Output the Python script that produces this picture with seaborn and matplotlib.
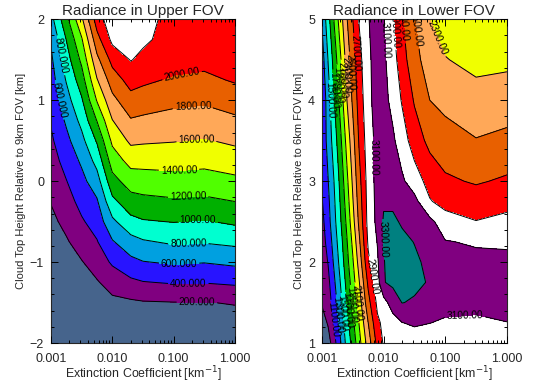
import numpy as np
import matplotlib
matplotlib.use("Agg")
import matplotlib.pyplot as plt
import seaborn as sns

# %%
# upper FOV grid: extinction (km^-1) x cloud top height (km)
ext_upper = [0.001, 0.00178, 0.00316, 0.00562, 0.01, 0.02, 0.0316, 0.1, 0.316, 1.0]
hgt_upper = [-2.0, -1.75, -1.5, -1.25, -1.0, -0.75, -0.5, -0.25, 0.0,
             0.25, 0.5, 0.75, 1.0, 1.25, 1.5, 1.75, 2.0]
rad_upper = [
    [10, 25, 45, 70, 90, 90, 95, 100, 100, 100],
    [15, 40, 70, 100, 120, 120, 125, 130, 130, 140],
    [25, 60, 100, 140, 160, 170, 185, 195, 195, 209],
    [40, 90, 140, 185, 271, 358, 391, 417, 408, 433],
    [60, 130, 190, 283, 430, 548, 592, 625, 608, 642],
    [102, 180, 283, 388, 582, 724, 778, 829, 814, 846],
    [155, 251, 377, 483, 757, 940, 983, 1007, 986, 1033],
    [209, 323, 461, 577, 952, 1123, 1148, 1173, 1159, 1201],
    [262, 394, 542, 715, 1131, 1290, 1306, 1327, 1315, 1356],
    [315, 471, 631, 867, 1291, 1467, 1467, 1472, 1456, 1500],
    [368, 548, 742, 1022, 1442, 1640, 1627, 1610, 1585, 1636],
    [419, 630, 857, 1208, 1594, 1783, 1762, 1729, 1707, 1764],
    [467, 722, 976, 1414, 1745, 1933, 1906, 1850, 1830, 1892],
    [514, 815, 1108, 1586, 1897, 2076, 2039, 1975, 1955, 2020],
    [562, 909, 1243, 1748, 2062, 2210, 2148, 2080, 2060, 2070],
    [622, 1006, 1378, 1926, 2250, 2290, 2240, 2110, 2110, 2110],
    [733, 1144, 1562, 2100, 2330, 2350, 2280, 2120, 2140, 2140],
]
levels_upper = [200, 400, 600, 800, 1000, 1200, 1400, 1600, 1800, 2000, 2200]

# lower FOV grid
ext_lower = [0.001, 0.00126, 0.00158, 0.002, 0.00251, 0.00316, 0.00398, 0.00562,
             0.00794, 0.01, 0.0141, 0.02, 0.0316, 0.0562, 0.1, 0.316, 1.0]
hgt_lower = [1.0, 1.25, 1.5, 1.75, 2.0, 2.25, 2.5, 2.75, 3.0, 3.5, 4.0, 4.5, 5.0]
rad_lower = [
    [700, 800, 1033, 1280, 1556, 1774, 2021, 2391, 2763, 2920, 2990, 3049, 3020, 3024, 3029, 3036, 3057],
    [800, 923, 1115, 1369, 1616, 1853, 2100, 2497, 2863, 2942, 3019, 3097, 3120, 3102, 3085, 3080, 3098],
    [920, 1005, 1194, 1446, 1688, 1935, 2190, 2632, 2944, 3029, 3191, 3305, 3280, 3170, 3140, 3130, 3140],
    [950, 1047, 1267, 1507, 1752, 2003, 2275, 2738, 3020, 3290, 3340, 3360, 3340, 3285, 3200, 3170, 3170],
    [990, 1109, 1335, 1572, 1819, 2074, 2368, 2859, 3070, 3295, 3340, 3360, 3330, 3260, 3190, 3150, 3140],
    [1010, 1170, 1389, 1623, 1870, 2145, 2451, 2926, 3110, 3305, 3340, 3340, 3295, 3230, 3110, 3080, 3075],
    [1040, 1226, 1441, 1680, 1931, 2223, 2534, 2965, 3150, 3320, 3330, 3280, 3220, 3150, 2990, 2906, 2952],
    [1085, 1256, 1473, 1720, 1983, 2282, 2583, 2974, 3160, 3280, 3270, 3230, 3160, 2915, 2828, 2791, 2838],
    [1130, 1294, 1507, 1758, 2035, 2333, 2626, 2982, 3170, 3260, 3200, 3130, 3000, 2825, 2731, 2680, 2727],
    [1140, 1372, 1594, 1856, 2154, 2426, 2713, 3011, 3160, 3200, 3133, 2997, 2802, 2647, 2584, 2510, 2551],
    [1120, 1408, 1692, 1975, 2285, 2535, 2774, 3045, 3190, 3159, 3046, 2880, 2682, 2500, 2444, 2366, 2394],
    [1200, 1508, 1782, 2075, 2371, 2603, 2828, 3062, 3185, 3139, 2986, 2783, 2567, 2400, 2308, 2250, 2260],
    [1320, 1623, 1916, 2209, 2477, 2696, 2906, 3091, 3175, 3110, 2922, 2718, 2507, 2300, 2220, 2170, 2200],
]
levels_lower = [900, 1100, 1300, 1500, 1700, 1900, 2100, 2300, 2500, 2700, 2900, 3100, 3300]

# IDL-like colour table, one colour per band
band_colors = ["#46648c", "#800080", "#2814ff", "#00a0e0", "#00ffd0", "#00b000",
               "#50ff00", "#f0ff00", "#ffa858", "#e86000", "#ff0000", "#ffffff",
               "#800080", "#008080"]

# %%
sns.set_style("white")
plt.rcParams["font.family"] = ["Liberation Sans", "DejaVu Sans"]
plt.rcParams["axes.linewidth"] = 0.8


def fmt(v):
    return f"{v:.3f}" if v < 1000 else f"{v:.2f}"


def draw_panel(ax, ext, hgt, rad, levels, title, ylabel, yticks, label_pos):
    xl = np.log10(ext)
    z = np.array(rad, dtype=float)
    bounds = [-1e4] + levels + [1e4]
    ax.contourf(xl, hgt, z, levels=bounds, colors=band_colors[:len(bounds) - 1])
    cs = ax.contour(xl, hgt, z, levels=levels, colors="k", linewidths=0.7)
    ax.clabel(cs, fmt=fmt, fontsize=7.3, inline=True, inline_spacing=2, manual=label_pos)
    ax.set_axisbelow(False)
    ax.set_xlim(-3, 0)
    ax.set_ylim(hgt[0], hgt[-1])
    ax.set_xticks([-3, -2, -1, 0])
    ax.set_xticklabels(["0.001", "0.010", "0.100", "1.000"])
    minor = [np.log10(k * 10.0 ** e) for e in (-3, -2, -1) for k in range(2, 10)]
    ax.set_xticks(minor, minor=True)
    ax.set_yticks(yticks)
    ax.set_yticklabels([f"{t:.0f}".replace("-", "\u2212") for t in yticks])
    ax.set_yticks(np.arange(yticks[0], yticks[-1] + 0.01, 0.2), minor=True)
    ax.tick_params(which="both", direction="in", bottom=True, left=True, top=True,
                   right=True, labelsize=9, color="k", width=0.7)
    ax.tick_params(which="major", length=5)
    ax.tick_params(which="minor", length=2.5)
    ax.tick_params(axis="x", which="major", pad=7)
    ax.tick_params(axis="y", which="major", pad=5)
    ax.set_title(title, fontsize=11, pad=3)
    ax.set_xlabel("Extinction Coefficient [km$^{-1}$]", fontsize=8.9, labelpad=0)
    ax.set_ylabel(ylabel, fontsize=8, labelpad=3)


fig = plt.figure(figsize=(5.33, 3.85), dpi=100)
ax1 = fig.add_axes([0.0957, 0.109, 0.345, 0.841])
ax2 = fig.add_axes([0.604, 0.109, 0.347, 0.841])

pos_upper = [(-0.86, 1.28), (-0.68, 0.90), (-0.62, 0.49), (-0.91, 0.11), (-0.76, -0.22),
             (-0.60, -0.51), (-0.76, -0.79), (-0.91, -1.04), (-0.76, -1.28), (-0.62, -1.51),
             (-2.80, 1.56), (-2.90, 1.0)]
pos_lower = [(-2.49, 4.58), (-2.06, 4.74), (-1.87, 4.87), (-1.68, 4.95), (-1.55, 4.87),
             (-1.12, 4.77), (-2.19, 3.30), (-2.01, 2.28), (-2.22, 1.82), (-0.68, 1.35),
             (-2.85, 4.0), (-2.82, 4.13), (-2.75, 4.19), (-2.68, 4.25), (-2.61, 4.31),
             (-2.55, 4.35), (-2.82, 1.29), (-2.74, 1.35), (-2.66, 1.37), (-2.58, 1.41),
             (-2.50, 1.47), (-2.42, 1.50)]

draw_panel(ax1, ext_upper, hgt_upper, rad_upper, levels_upper, "Radiance in Upper FOV",
           "Cloud Top Height Relative to 9km FOV [km]", [-2, -1, 0, 1, 2], pos_upper)
draw_panel(ax2, ext_lower, hgt_lower, rad_lower, levels_lower, "Radiance in Lower FOV",
           "Cloud Top Height Relative to 6km FOV [km]", [1, 2, 3, 4, 5], pos_lower)

fig.savefig("out.png", dpi=100)
